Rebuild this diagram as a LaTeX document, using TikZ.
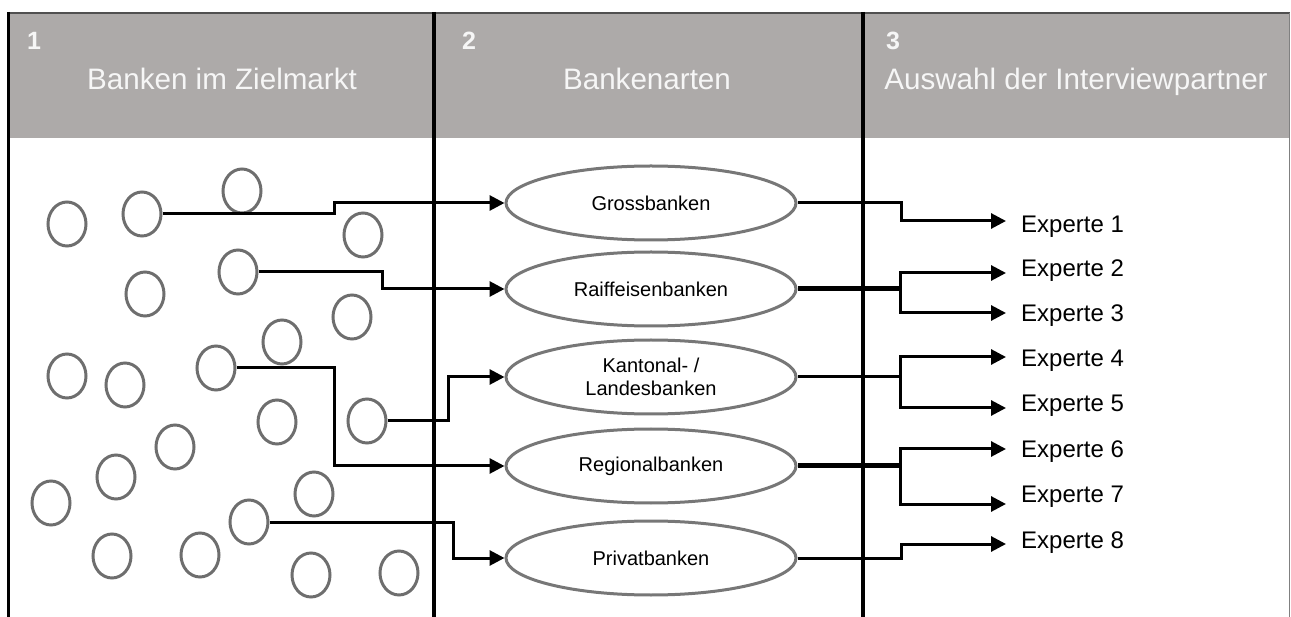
\documentclass[tikz,border=0pt]{standalone}
\usepackage{fontspec}
\setmainfont{Liberation Sans}
\usetikzlibrary{shapes.geometric,arrows.meta}
\definecolor{hdr}{HTML}{ADAAA9}
\definecolor{circ}{HTML}{6E6E6E}
\definecolor{ell}{HTML}{777777}
\definecolor{hdrtext}{HTML}{F6F6F6}
\definecolor{frame}{HTML}{505050}
\begin{document}
\begin{tikzpicture}[x=1pt,y=-1pt,
  bank/.style={ellipse,draw=circ,line width=3pt,minimum width=38pt,minimum height=44pt,inner sep=0pt},
  kind/.style={ellipse,draw=ell,line width=3pt,minimum width=290pt,minimum height=74pt,inner sep=0pt,font=\fontsize{20}{23}\selectfont,align=center},
  conn/.style={line width=3pt},
  fatconn/.style={line width=5pt},
  arr/.style={conn,-{Triangle[length=15pt,width=15pt]}},
  hnum/.style={anchor=base west,inner sep=0pt,text=hdrtext,font=\fontsize{25}{30}\selectfont\bfseries},
  htitle/.style={anchor=base,inner sep=0pt,text=hdrtext,font=\fontsize{29.6}{34}\selectfont},
  expert/.style={anchor=base west,inner sep=0pt,font=\fontsize{24}{28}\selectfont},
  divider/.style={line width=4.5pt,black}
]
\useasboundingbox (0,0) rectangle (1291,617);
% header band and frame
\fill[hdr] (8,13) rectangle (1290,138);
\draw[frame,line width=2pt] (8,13) -- (1290,13);
\draw[black,line width=3pt] (8.5,12) -- (8.5,617);
\draw[gray,line width=1.5pt] (1289.5,13) -- (1289.5,617);
\draw[divider] (434,12) -- (434,617);
\draw[divider] (863,12) -- (863,617);
% header texts
\node[hnum] (n1) at (27,50) {1};
\node[hnum] (n2) at (462,50) {2};
\node[hnum] (n3) at (886,50) {3};
\node[htitle] (t1) at (222,90) {Banken im Zielmarkt};
\node[htitle] (t2) at (647,90) {Bankenarten};
\node[htitle] (t3) at (1076,90) {Auswahl der Interviewpartner};
% banks
\node[bank] (c1) at (67,224) {};
\node[bank] (c2) at (142,214) {};
\node[bank] (c3) at (242,191) {};
\node[bank] (c4) at (363,235) {};
\node[bank] (c5) at (238,272) {};
\node[bank] (c6) at (145,294) {};
\node[bank] (c7) at (352,317) {};
\node[bank] (c8) at (282,342) {};
\node[bank] (c9) at (216,368) {};
\node[bank] (c10) at (67,376) {};
\node[bank] (c11) at (125,385) {};
\node[bank] (c12) at (277,422) {};
\node[bank] (c13) at (367,421) {};
\node[bank] (c14) at (175,447) {};
\node[bank] (c15) at (116,477) {};
\node[bank] (c16) at (51,503) {};
\node[bank] (c17) at (314,494) {};
\node[bank] (c18) at (249,522) {};
\node[bank] (c19) at (112,556) {};
\node[bank] (c20) at (200,555) {};
\node[bank] (c21) at (311,575) {};
\node[bank] (c22) at (399,573) {};
% bank types
\node[kind] (gross) at (651,203) {Grossbanken};
\node[kind] (raiff) at (651,289) {Raiffeisenbanken};
\node[kind] (kant) at (651,377) {Kantonal- /\\Landesbanken};
\node[kind] (reg) at (651,466) {Regionalbanken};
\node[kind] (priv) at (651,558) {Privatbanken};
% experts
\node[expert] (e1) at (1021,233) {Experte 1};
\node[expert] (e2) at (1021,277) {Experte 2};
\node[expert] (e3) at (1021,322) {Experte 3};
\node[expert] (e4) at (1021,367) {Experte 4};
\node[expert] (e5) at (1021,412) {Experte 5};
\node[expert] (e6) at (1021,457) {Experte 6};
\node[expert] (e7) at (1021,502) {Experte 7};
\node[expert] (e8) at (1021,548) {Experte 8};
\coordinate (a1) at (1006,221);
\coordinate (a2) at (1006,273);
\coordinate (a3) at (1006,313);
\coordinate (a4) at (1006,357);
\coordinate (a5) at (1006,408);
\coordinate (a6) at (1006,449);
\coordinate (a7) at (1006,504);
\coordinate (a8) at (1006,544);
\coordinate (j2) at (900,289);
\coordinate (j4) at (900,377);
\coordinate (j6) at (900,466);
% connectors left -> middle
\draw[arr] (c2.east) -- ++(172,0) |- (gross.west);
\draw[arr] (c5.east) -- ++(124,0) |- (raiff.west);
\draw[arr] (c13.east) -- ++(61,0) |- (kant.west);
\draw[arr] (c9.east) -- ++(98,0) |- (reg.west);
\draw[arr] (c18.east) -- ++(184,0) |- (priv.west);
% connectors middle -> right
\draw[arr] (gross.east) -- ++(104,0) |- (a1);
\draw[fatconn] (raiff.east) -- (j2);
\draw[arr] (j2) |- (a2);
\draw[arr] (j2) |- (a3);
\draw[conn] (kant.east) -- (j4);
\draw[arr] (j4) |- (a4);
\draw[arr] (j4) |- (a5);
\draw[fatconn] (reg.east) -- (j6);
\draw[arr] (j6) |- (a6);
\draw[arr] (j6) |- (a7);
\draw[arr] (priv.east) -- ++(104,0) |- (a8);
\end{tikzpicture}
\end{document}
